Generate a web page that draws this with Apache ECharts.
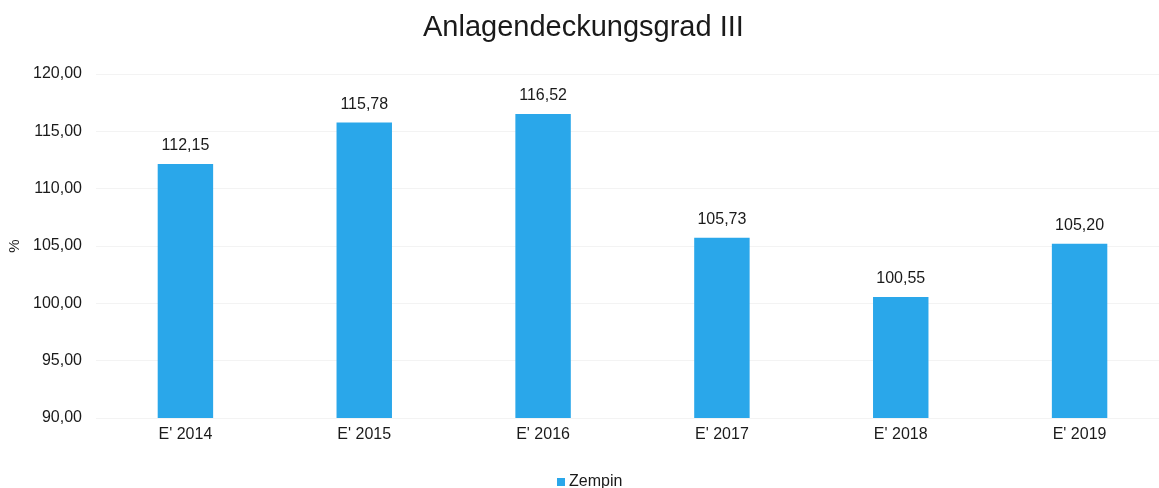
<!DOCTYPE html>
<html><head><meta charset="utf-8">
<script src="https://cdn.jsdelivr.net/npm/echarts@6/dist/echarts.min.js"></script>
<style>html,body{margin:0;padding:0;background:#fff}#c{width:1159px;height:488px}</style>
</head><body><div id="c"></div>
<script>
const categories = ["E' 2014","E' 2015","E' 2016","E' 2017","E' 2018","E' 2019"];
const zempin = [112.15, 115.78, 116.52, 105.73, 100.55, 105.20];
const yTicks = [90, 95, 100, 105, 110, 115, 120];
const fmt = v => v.toFixed(2).replace('.', ',');
const chart = echarts.init(document.getElementById('c'), null, {renderer:'canvas'});
chart.setOption({
  animation:false,
  textStyle:{fontFamily:'Liberation Sans, Arial, sans-serif'},
  title:{text:'Anlagendeckungsgrad III', left:418, top:8,
    textStyle:{fontSize:29, fontWeight:'normal', color:'#1a1a1a', fontFamily:'Liberation Sans, Arial, sans-serif'}},
  grid:{left:96, width:1073, top:74, bottom:70, containLabel:false, outerBoundsMode:'none'},
  legend:{data:['Zempin'], bottom:-7, left:552, itemWidth:8, itemHeight:8, itemGap:3, icon:'rect',
    textStyle:{fontSize:16, color:'#1a1a1a', padding:[0,0,0,-1]}},
  xAxis:{type:'category', data:categories,
    axisLine:{show:false}, axisTick:{show:false},
    axisLabel:{fontSize:16, color:'#1a1a1a', margin:9}},
  yAxis:{type:'value', min:yTicks[0], max:yTicks[yTicks.length-1], interval:5,
    name:'%', nameLocation:'middle', nameGap:70, nameRotate:90,
    nameTextStyle:{fontSize:15, color:'#1a1a1a'},
    axisLine:{show:false}, axisTick:{show:false},
    splitLine:{show:true, lineStyle:{color:'#f3f3f3'}},
    axisLabel:{fontSize:16, color:'#1a1a1a', margin:14, formatter:v=>fmt(v)}},
  series:[{name:'Zempin', type:'bar', data:zempin, barWidth:'31%',
    itemStyle:{color:'#2aa7ea'},
    label:{show:true, position:'top', distance:10, fontSize:16, color:'#1a1a1a', formatter:p=>fmt(p.value)}}]
});
</script></body></html>
